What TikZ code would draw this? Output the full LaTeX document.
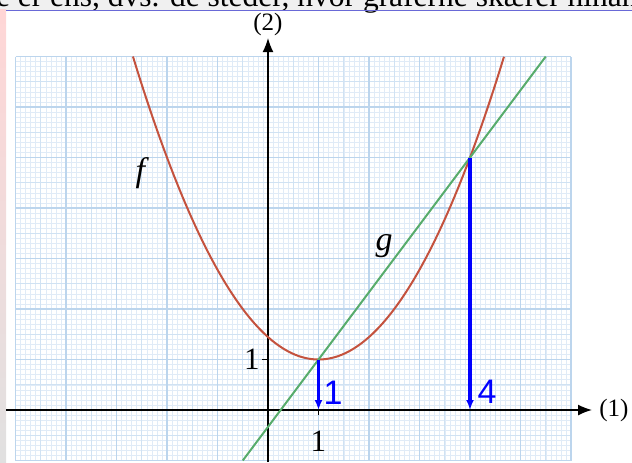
\documentclass[tikz,border=0pt]{standalone}
\usepackage{fontspec}
\setmainfont{Liberation Serif}
\setsansfont{Liberation Sans}
\newfontfamily\fnfont{Liberation Serif Italic}
\usetikzlibrary{arrows.meta}

\definecolor{gridfine}{RGB}{224,235,247}
\definecolor{gridhalf}{RGB}{208,226,243}
\definecolor{gridmajor}{RGB}{188,213,237}
\definecolor{fcurve}{RGB}{196,82,62}
\definecolor{gline}{RGB}{88,172,108}
\definecolor{rulerblue}{RGB}{105,105,215}

\begin{document}
\begin{tikzpicture}[x=50.5pt,y=50.5pt,>=Latex,font=\fontsize{25}{30}\selectfont,
    finegrid/.style={draw=gridfine,line width=0.5pt},
    halfgrid/.style={draw=gridhalf,line width=0.8pt},
    majorgrid/.style={draw=gridmajor,line width=1.6pt},
    axis/.style={line width=1.5pt,-{Latex[length=14pt,width=11pt]}},
    solarrow/.style={blue,line width=3.5pt,-{Latex[length=10pt,width=8pt]}},
    sollabel/.style={text=blue,font=\sffamily\fontsize{34}{40}\selectfont},
    ticklabel/.style={inner sep=0pt,font=\fontsize{31}{36}\selectfont},
    fnlabel/.style={font=\fnfont\fontsize{34}{40}\selectfont}]
  \def\xmin{-5}
  \def\xmax{6}
  \def\ymin{-1}
  \def\ymax{7}

  % ramme = 632 x 462 px
  \useasboundingbox (-5.307,-1.030) rectangle (7.208,8.119);
  \clip (-5.307,-1.030) rectangle (7.208,8.119);

  % ================= afskaaret tekst (top) =================
  \fill[gray!12] (-5.307,7.921) rectangle (7.208,8.119);
  \shade[top color=red!16,bottom color=gray!24] (-5.307,-1.030) rectangle (-5.188,7.921);
  \node[anchor=base west,inner sep=0pt,font=\fontsize{31.5}{36}\selectfont] (toptext)
    at (-5.39,8.0) {e er ens, dvs. de steder, hvor graferne skærer hinanden};
  \draw[rulerblue,line width=0.8pt] (-5.188,7.921) -- (7.208,7.921);

  % ================= millimeterpapir =================
  \draw[finegrid,step=0.1] (\xmin,\ymin) grid (\xmax,\ymax);
  \draw[halfgrid,step=0.5] (\xmin,\ymin) grid (\xmax,\ymax);
  \draw[majorgrid,step=1] (\xmin,\ymin) grid (\xmax,\ymax);

  % ================= akser =================
  \coordinate (O) at (0,0);
  \coordinate (xstart) at (-5.188,0);
  \coordinate (xend) at (6.416,0);
  \coordinate (ystart) at (0,-1.030);
  \coordinate (yend) at (0,7.366);
  \draw[axis] (xstart) -- (xend);
  \draw[axis] (ystart) -- (yend);
  \node[inner sep=0pt] (xlab) at (6.85,0) {(1)};
  \node[inner sep=0pt] (ylab) at (0,7.64) {(2)};

  % enhedsmarkeringer
  \draw[line width=1pt] (1,0) -- (1,-0.1);
  \draw[line width=1pt] (0,1) -- (-0.11,1);
  \node[ticklabel] (xone) at (1,-0.62) {1};
  \node[ticklabel] (yone) at (-0.32,1.0) {1};

  % ================= grafer =================
  \draw[fcurve,line width=2pt,domain=-2.6742:4.6742,samples=120]
    plot (\x,{4/9*(\x-1)^2+1});
  \draw[gline,line width=2pt] (-0.5,-1) -- (5.5,7);
  \node[fnlabel] (flab) at (-2.53,4.69) {f};
  \node[fnlabel] (glab) at (2.30,3.25) {g};

  % ================= skaeringspunkter =================
  \coordinate (P1) at (1,1);
  \coordinate (Q1) at (1,0);
  \coordinate (P4) at (4,5);
  \coordinate (Q4) at (4,0);
  \draw[solarrow] (P1) -- (Q1);
  \draw[solarrow] (P4) -- (Q4);
  \node[sollabel] (sol1) at (1.29,0.34) {1};
  \node[sollabel] (sol4) at (4.34,0.37) {4};
\end{tikzpicture}
\end{document}
